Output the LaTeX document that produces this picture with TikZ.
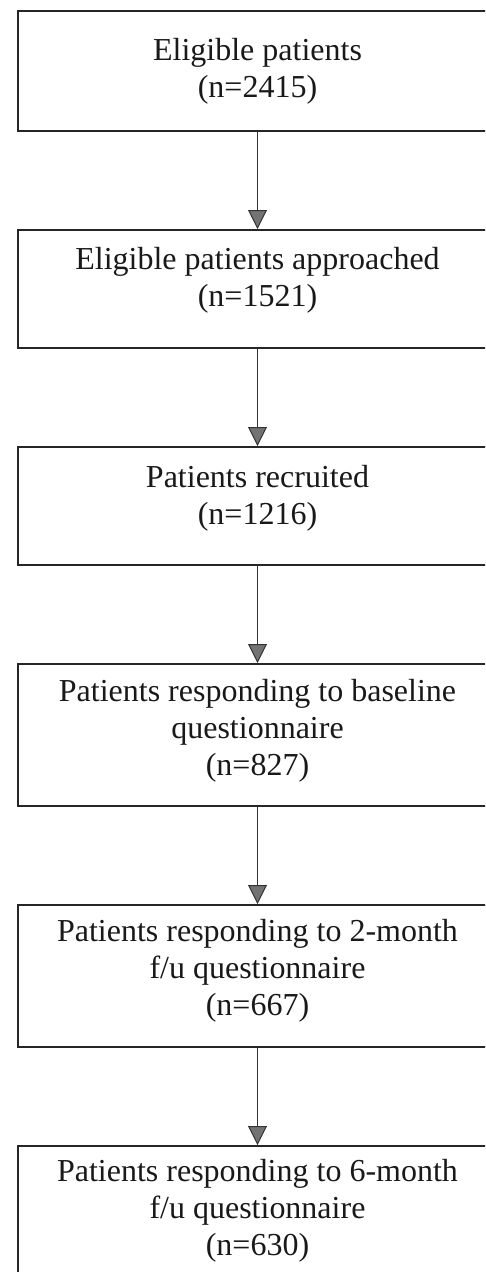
\documentclass[tikz,border=0pt]{standalone}
\usepackage{fontspec}
\setmainfont{Liberation Serif}
\usetikzlibrary{positioning,arrows.meta}

\newcommand{\lowpad}[1]{\rule[-#1]{0pt}{#1}}

\tikzset{
  stage/.style={draw=black!85, line width=2pt, align=center, text=black!90,
    minimum width=479pt, minimum height=118pt, inner sep=0pt,
    font=\fontsize{32}{37}\selectfont},
  flow/.style={draw=black!80, line width=1.5pt,
    -{Triangle[width=19pt,length=19pt,fill=black!55,line width=1pt]}}
}

\begin{document}
\begin{tikzpicture}[node distance=97pt, x=1pt, y=1pt]
  \clip (0,0) rectangle (485,-1272);
  % Les étapes du recrutement
  \node[stage, minimum height=120pt, anchor=north west] (eligible) at (17,-10) {Eligible patients\\(n=2415)};
  \node[stage, below=of eligible] (approached) {Eligible patients approached\\(n=1521)\lowpad{24pt}};
  \node[stage, below=of approached] (recruited) {Patients recruited\\(n=1216)\lowpad{22pt}};
  \node[stage, minimum height=142pt, below=of recruited] (baseline) {Patients responding to baseline\\questionnaire\\(n=827)\lowpad{16pt}};
  \node[stage, minimum height=142pt, below=of baseline] (month2) {Patients responding to 2-month\\f/u questionnaire\\(n=667)\lowpad{18pt}};
  \node[stage, minimum height=142pt, below=of month2] (month6) {Patients responding to 6-month\\f/u questionnaire\\(n=630)\lowpad{20pt}};

  % Flèches entre les étapes
  \draw[flow] (eligible) -- (approached);
  \draw[flow] (approached) -- (recruited);
  \draw[flow] (recruited) -- (baseline);
  \draw[flow] (baseline) -- (month2);
  \draw[flow] (month2) -- (month6);
\end{tikzpicture}
\end{document}
